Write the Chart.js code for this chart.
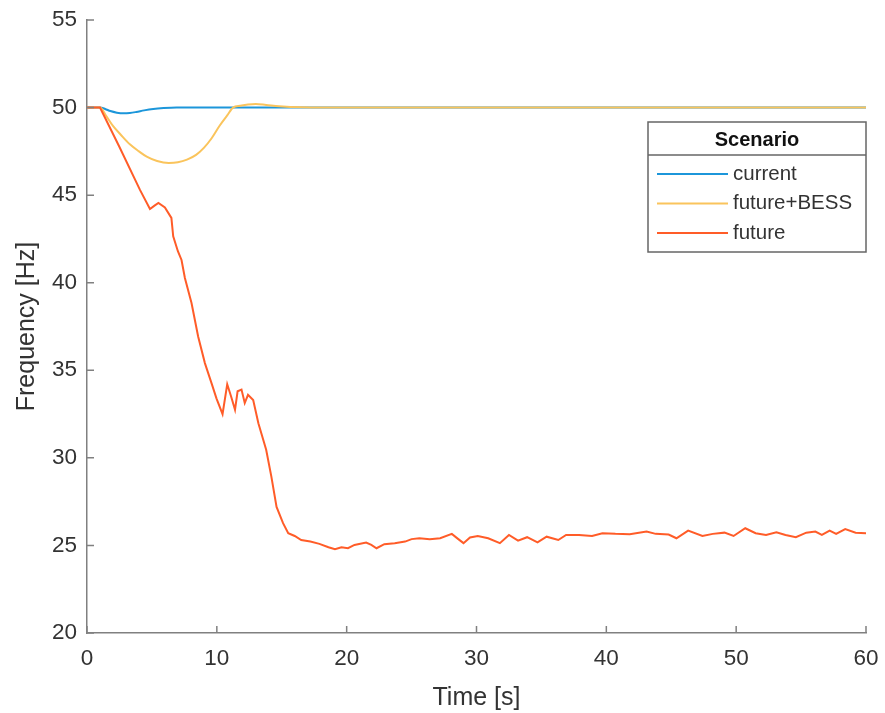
<!DOCTYPE html>
<html>
<head>
<meta charset="utf-8">
<script src="https://cdn.jsdelivr.net/npm/chart.js@4.4.1/dist/chart.umd.min.js"></script>
<style>
  body { margin: 0; background: #fff; }
  #wrap { width: 885px; height: 713px; }
</style>
</head>
<body>
<div id="wrap"><canvas id="freqChart" width="885" height="713"></canvas></div>
<script>
// scenario: current
const timeCurrent = [0, 1, 1.4, 1.8, 2.3, 2.8, 3.3, 3.8, 4.4, 5.1, 5.9, 6.9, 8, 10, 60];
const freqCurrent = [50, 50, 49.92, 49.8, 49.71, 49.67, 49.69, 49.75, 49.84, 49.92, 49.97, 50.0, 50.0, 50.0, 50.0];

// scenario: future+BESS
const timeBess = [0, 1, 1.5, 2.0, 2.6, 3.3, 4.0, 4.6, 5.4, 6.3, 7.0, 7.7, 8.4, 9.0, 9.6, 10.2, 10.8, 11.25, 11.8, 12.4, 13.0, 13.8, 14.8, 16.6, 20, 60];
const freqBess = [50, 50, 49.5, 48.95, 48.45, 47.9, 47.5, 47.2, 46.95, 46.84, 46.88, 47.03, 47.3, 47.7, 48.25, 48.95, 49.55, 50.0, 50.1, 50.17, 50.2, 50.15, 50.08, 50.02, 50.0, 50.0];

// scenario: future
const timeFuture = [
  0, 1, 2.5, 4.08, 4.85, 5.2, 5.5, 6.0, 6.5, 6.64,
  7.0, 7.28, 7.54, 8.05, 8.56, 9.08, 9.59, 9.97, 10.44, 10.8,
  11.1, 11.4, 11.6, 11.9, 12.15, 12.4, 12.8, 13.2, 13.8, 14.2,
  14.6, 15.1, 15.5, 16.0, 16.5, 17.2, 17.9, 18.6, 19.1, 19.6,
  20.1, 20.6, 21.5, 21.9, 22.3, 22.9, 23.7, 24.5, 25.0, 25.6,
  26.4, 27.2, 28.1, 28.6, 29.0, 29.5, 30.1, 30.9, 31.8, 32.5,
  33.2, 33.9, 34.7, 35.4, 36.3, 36.9, 37.9, 38.9, 39.7, 40.7,
  41.8, 43.1, 43.8, 44.8, 45.4, 46.3, 47.4, 48.2, 49.1, 49.8,
  50.7, 51.5, 52.3, 53.1, 53.8, 54.6, 55.4, 56.1, 56.6, 57.2,
  57.7, 58.4, 59.2, 60
];
const freqFuture = [
  50, 50, 47.75, 45.3, 44.21, 44.4, 44.55, 44.3, 43.7, 42.65,
  41.8, 41.3, 40.27, 38.84, 36.93, 35.41, 34.27, 33.4, 32.5, 34.2,
  33.5, 32.74, 33.8, 33.9, 33.13, 33.6, 33.3, 31.98, 30.46, 28.93,
  27.2, 26.27, 25.7, 25.54, 25.31, 25.22, 25.09, 24.9, 24.78, 24.9,
  24.84, 25.03, 25.16, 25.03, 24.84, 25.07, 25.13, 25.22, 25.36, 25.41,
  25.36, 25.41, 25.66, 25.36, 25.13, 25.45, 25.54, 25.41, 25.13, 25.6,
  25.27, 25.47, 25.18, 25.5, 25.31, 25.6, 25.6, 25.54, 25.7, 25.66,
  25.64, 25.79, 25.66, 25.62, 25.41, 25.85, 25.54, 25.66, 25.73, 25.54,
  25.98, 25.7, 25.6, 25.75, 25.6, 25.47, 25.73, 25.79, 25.6, 25.85,
  25.66, 25.93, 25.73, 25.7
];

const xTicks = [0, 10, 20, 30, 40, 50, 60];
const yTicks = [20, 25, 30, 35, 40, 45, 50, 55];

const FONT = "'Liberation Sans', Arial, sans-serif";
const TEXT = '#333333';
const AXIS = '#808080';

function toPoints(xs, ys) {
  return xs.map((x, i) => ({ x: x, y: ys[i] }));
}

// MATLAB style ticks pointing into the plot
const inwardTicks = {
  id: 'inwardTicks',
  afterDraw(chart) {
    const { ctx, chartArea, scales } = chart;
    ctx.save();
    ctx.strokeStyle = AXIS;
    ctx.lineWidth = 1.5;
    ctx.beginPath();
    xTicks.forEach(v => {
      const px = scales.x.getPixelForValue(v);
      ctx.moveTo(px, chartArea.bottom);
      ctx.lineTo(px, chartArea.bottom - 7);
    });
    yTicks.forEach(v => {
      const py = scales.y.getPixelForValue(v);
      ctx.moveTo(chartArea.left, py);
      ctx.lineTo(chartArea.left + 7, py);
    });
    ctx.stroke();
    ctx.restore();
  }
};

// boxed legend with a title row, inside the plot
const scenarioLegend = {
  id: 'scenarioLegend',
  afterDraw(chart) {
    const { ctx, chartArea } = chart;
    const right = chartArea.right, left = right - 218;
    const top = 122, bottom = 252, sep = 155;
    ctx.save();
    ctx.fillStyle = '#fff';
    ctx.fillRect(left, top, right - left, bottom - top);
    ctx.strokeStyle = '#666';
    ctx.lineWidth = 1.5;
    ctx.strokeRect(left, top, right - left, bottom - top);
    ctx.beginPath();
    ctx.moveTo(left, sep);
    ctx.lineTo(right, sep);
    ctx.stroke();

    ctx.fillStyle = '#111';
    ctx.font = 'bold 20px ' + FONT;
    ctx.textAlign = 'center';
    ctx.textBaseline = 'middle';
    ctx.fillText('Scenario', (left + right) / 2, 140);

    ctx.font = '20.5px ' + FONT;
    ctx.textAlign = 'left';
    chart.data.datasets.forEach((ds, i) => {
      const y = 174 + i * 29.5;
      ctx.strokeStyle = ds.borderColor;
      ctx.lineWidth = 2;
      ctx.beginPath();
      ctx.moveTo(left + 9, y);
      ctx.lineTo(left + 80, y);
      ctx.stroke();
      ctx.fillStyle = TEXT;
      ctx.fillText(ds.label, left + 85, y);
    });
    ctx.restore();
  }
};

new Chart(document.getElementById('freqChart'), {
  type: 'line',
  data: {
    datasets: [
      {
        label: 'current',
        data: toPoints(timeCurrent, freqCurrent),
        borderColor: 'rgb(28,150,218)',
        borderWidth: 2,
        pointRadius: 0,
        cubicInterpolationMode: 'monotone',
        order: 3
      },
      {
        label: 'future+BESS',
        data: toPoints(timeBess, freqBess),
        borderColor: 'rgb(250,196,92)',
        borderWidth: 2,
        pointRadius: 0,
        cubicInterpolationMode: 'monotone',
        order: 2
      },
      {
        label: 'future',
        data: toPoints(timeFuture, freqFuture),
        borderColor: 'rgb(255,92,40)',
        borderWidth: 2,
        pointRadius: 0,
        tension: 0,
        order: 1
      }
    ]
  },
  options: {
    responsive: false,
    animation: false,
    layout: { padding: { top: 20, right: 19, left: 0, bottom: 0 } },
    plugins: {
      legend: { display: false },
      tooltip: { enabled: false }
    },
    scales: {
      x: {
        type: 'linear',
        min: 0,
        max: 60,
        afterBuildTicks(scale) { scale.ticks = xTicks.map(v => ({ value: v })); },
        afterFit(scale) {
          scale.height = 80;
          scale.paddingLeft = 0;
          scale.paddingRight = 0;
        },
        grid: { display: false, drawTicks: false },
        border: { color: AXIS, width: 1.5 },
        ticks: { padding: 12, color: TEXT, font: { family: FONT, size: 22.5 } },
        title: {
          display: true,
          text: 'Time [s]',
          color: TEXT,
          font: { family: FONT, size: 25 },
          padding: { top: 8, bottom: 0 }
        }
      },
      y: {
        min: 20,
        max: 55,
        afterBuildTicks(scale) { scale.ticks = yTicks.map(v => ({ value: v })); },
        afterFit(scale) {
          scale.width = 87;
          scale.paddingTop = 0;
          scale.paddingBottom = 0;
        },
        grid: { display: false, drawTicks: false },
        border: { color: AXIS, width: 1.5 },
        ticks: { padding: 10, color: TEXT, font: { family: FONT, size: 22.5 } },
        title: {
          display: true,
          text: 'Frequency [Hz]',
          color: TEXT,
          font: { family: FONT, size: 25 },
          padding: { top: 12, bottom: 0 }
        }
      }
    }
  },
  plugins: [inwardTicks, scenarioLegend]
});
</script>
</body>
</html>
